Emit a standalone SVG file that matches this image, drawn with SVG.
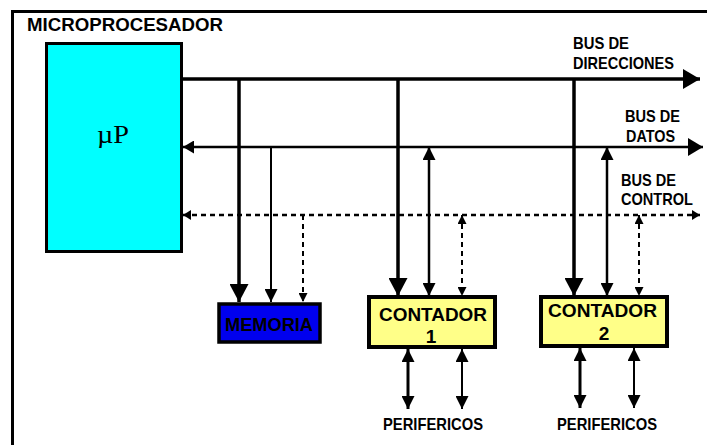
<svg xmlns="http://www.w3.org/2000/svg" width="707" height="445" viewBox="0 0 707 445">
<style>
.lbl{font-family:"Liberation Sans",Arial,sans-serif;font-weight:bold;fill:#000}
.ln{stroke:#000;fill:none}
.dash{stroke-dasharray:5 4}
.box{stroke:#000}
</style>
<defs>
<marker id="hBig" markerUnits="userSpaceOnUse" markerWidth="18" markerHeight="19" refX="18" refY="9.5" orient="auto-start-reverse"><path d="M0,0 L18,9.5 L0,19 z" fill="#000"/></marker>
<marker id="hMed" markerUnits="userSpaceOnUse" markerWidth="13" markerHeight="13" refX="13" refY="6.5" orient="auto-start-reverse"><path d="M0,0 L13,6.5 L0,13 z" fill="#000"/></marker>
<marker id="hSm" markerUnits="userSpaceOnUse" markerWidth="9" markerHeight="9" refX="9" refY="4.5" orient="auto-start-reverse"><path d="M0,0 L9,4.5 L0,9 z" fill="#000"/></marker>
<marker id="hBusA" markerUnits="userSpaceOnUse" markerWidth="17" markerHeight="20" refX="17" refY="10" orient="auto-start-reverse"><path d="M0,0 L17,10 L0,20 z" fill="#000"/></marker>
<marker id="hBusD" markerUnits="userSpaceOnUse" markerWidth="15" markerHeight="18" refX="15" refY="9" orient="auto-start-reverse"><path d="M0,0 L15,9 L0,18 z" fill="#000"/></marker>
<marker id="hBusDL" markerUnits="userSpaceOnUse" markerWidth="11" markerHeight="13" refX="11" refY="6.5" orient="auto-start-reverse"><path d="M0,0 L11,6.5 L0,13 z" fill="#000"/></marker>
<marker id="hBusC" markerUnits="userSpaceOnUse" markerWidth="8" markerHeight="10" refX="8" refY="5" orient="auto-start-reverse"><path d="M0,0 L8,5 L0,10 z" fill="#000"/></marker>
</defs>
<rect x="0" y="0" width="707" height="445" fill="#fff"/>
<g id="frame">
<line class="ln" x1="11" y1="11.5" x2="707" y2="11.5" stroke-width="3"/>
<line class="ln" x1="12.5" y1="10" x2="12.5" y2="445" stroke-width="3"/>
<text class="lbl" x="27" y="31" font-size="18.5" textLength="196" lengthAdjust="spacingAndGlyphs">MICROPROCESADOR</text>
</g>
<g id="connectors">
<line class="ln" x1="183" y1="79" x2="700" y2="79" stroke-width="3.5" marker-end="url(#hBusA)"/>
<line class="ln" x1="183" y1="147" x2="703" y2="147" stroke-width="2.5" marker-start="url(#hBusDL)" marker-end="url(#hBusD)"/>
<line class="ln dash" x1="183" y1="215" x2="700" y2="215" stroke-width="2.5" marker-start="url(#hBusC)" marker-end="url(#hBusC)"/>
<line class="ln" x1="239" y1="79" x2="239" y2="302" stroke-width="3.5" marker-end="url(#hBig)"/>
<line class="ln" x1="271" y1="147" x2="271" y2="302" stroke-width="2" marker-end="url(#hMed)"/>
<line class="ln dash" x1="303" y1="215" x2="303" y2="302" stroke-width="2" marker-end="url(#hSm)"/>
<line class="ln" x1="398" y1="79" x2="398" y2="296" stroke-width="3.5" marker-end="url(#hBig)"/>
<line class="ln" x1="429" y1="147" x2="429" y2="296" stroke-width="2.5" marker-start="url(#hMed)" marker-end="url(#hMed)"/>
<line class="ln dash" x1="462" y1="215" x2="462" y2="296" stroke-width="2" marker-start="url(#hSm)" marker-end="url(#hSm)"/>
<line class="ln" x1="408" y1="349" x2="408" y2="409" stroke-width="3" marker-start="url(#hMed)" marker-end="url(#hMed)"/>
<line class="ln" x1="462" y1="349" x2="462" y2="409" stroke-width="2" marker-start="url(#hMed)" marker-end="url(#hMed)"/>
<line class="ln" x1="574" y1="79" x2="574" y2="296" stroke-width="3.5" marker-end="url(#hBig)"/>
<line class="ln" x1="607" y1="147" x2="607" y2="296" stroke-width="2.5" marker-start="url(#hMed)" marker-end="url(#hMed)"/>
<line class="ln dash" x1="639" y1="215" x2="639" y2="296" stroke-width="2" marker-start="url(#hSm)" marker-end="url(#hSm)"/>
<line class="ln" x1="580" y1="348" x2="580" y2="408" stroke-width="3" marker-start="url(#hMed)" marker-end="url(#hMed)"/>
<line class="ln" x1="634" y1="348" x2="634" y2="408" stroke-width="2" marker-start="url(#hMed)" marker-end="url(#hMed)"/>
</g>
<g id="labels">
<text class="lbl" x="573" y="49" font-size="17" textLength="56" lengthAdjust="spacingAndGlyphs">BUS DE</text>
<text class="lbl" x="573" y="69" font-size="17" textLength="101" lengthAdjust="spacingAndGlyphs">DIRECCIONES</text>
<text class="lbl" x="625" y="122" font-size="17" textLength="55" lengthAdjust="spacingAndGlyphs">BUS DE</text>
<text class="lbl" x="626" y="142" font-size="17" textLength="49" lengthAdjust="spacingAndGlyphs">DATOS</text>
<text class="lbl" x="621" y="186" font-size="17" textLength="55" lengthAdjust="spacingAndGlyphs">BUS DE</text>
<text class="lbl" x="621" y="205" font-size="17" textLength="72" lengthAdjust="spacingAndGlyphs">CONTROL</text>
<text class="lbl" x="383" y="430" font-size="16.5" textLength="100" lengthAdjust="spacingAndGlyphs">PERIFERICOS</text>
<text class="lbl" x="557" y="430" font-size="16.5" textLength="100" lengthAdjust="spacingAndGlyphs">PERIFERICOS</text>
</g>
<g id="up">
<rect class="box" x="46.5" y="43.5" width="135" height="208" fill="#00ffff" stroke-width="3"/>
<text x="97" y="143" font-family="'Liberation Serif','Times New Roman',serif" font-size="26" fill="#000" textLength="32" lengthAdjust="spacingAndGlyphs">µP</text>
</g>
<g id="memoria">
<rect class="box" x="219" y="304" width="101" height="38" fill="#0000ee" stroke-width="3.5"/>
<text class="lbl" x="225" y="331" font-size="19" textLength="88" lengthAdjust="spacingAndGlyphs">MEMORIA</text>
</g>
<g id="contador1">
<rect class="box" x="369" y="297" width="126" height="50" fill="#ffff88" stroke-width="4"/>
<text class="lbl" x="379" y="321" font-size="19" textLength="108" lengthAdjust="spacingAndGlyphs">CONTADOR</text>
<text class="lbl" x="431" y="343" font-size="19" text-anchor="middle">1</text>
</g>
<g id="contador2">
<rect class="box" x="541" y="297" width="126" height="49" fill="#ffff88" stroke-width="4"/>
<text class="lbl" x="548" y="317" font-size="19" textLength="109" lengthAdjust="spacingAndGlyphs">CONTADOR</text>
<text class="lbl" x="604" y="340" font-size="19" text-anchor="middle">2</text>
</g>
</svg>
